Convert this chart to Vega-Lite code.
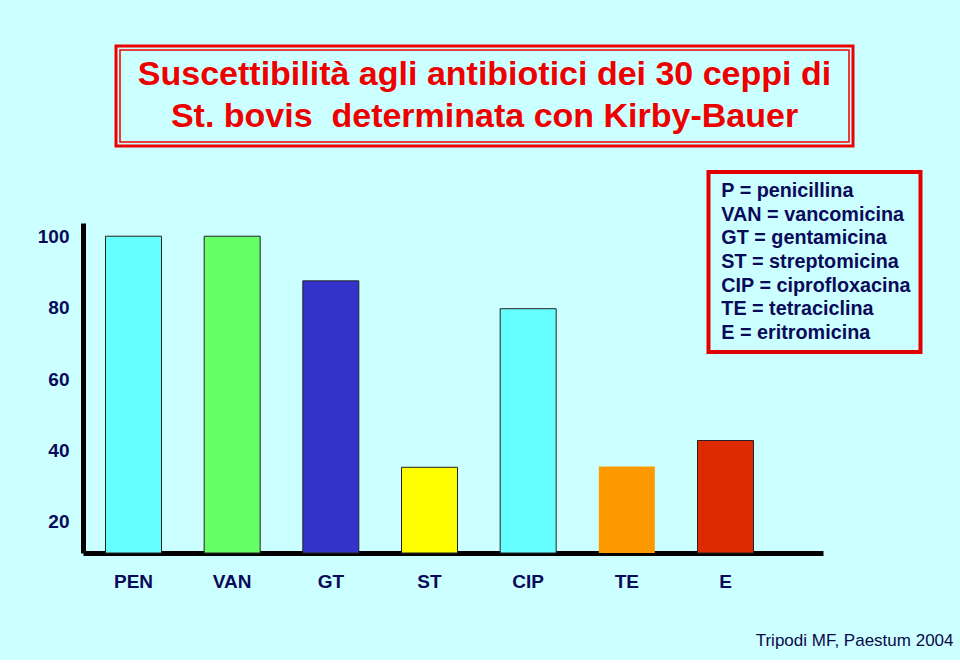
{
  "$schema": "https://vega.github.io/schema/vega-lite/v6.json",
  "background": "#ccffff",
  "padding": {"left": 37, "top": 44, "right": 10, "bottom": 11},
  "config": {"view": {"stroke": null}, "font": "Liberation Sans", "legend": {"strokeWidth": 4}},
  "title": {"text": "Tripodi MF, Paestum 2004", "orient": "bottom", "anchor": "end", "fontSize": 17, "fontWeight": "normal", "color": "#0a0a4a", "offset": 42, "dx": 31},
  "spacing": 75,
  "vconcat": [
    {
      "spacing": 0,
      "hconcat": [
        {"width": 31, "height": 100, "data": {"values": []}, "mark": "point"},
        {
          "width": 737,
          "height": 100,
          "view": {"stroke": "#ee0000", "strokeWidth": 3, "fill": null},
          "data": {"values": [{"title": "Suscettibilità agli antibiotici dei 30 ceppi di\nSt. bovis\u00a0 determinata con Kirby-Bauer"}]},
          "layer": [
            {"mark": {"type": "rect", "fill": null, "stroke": "#ee0000", "strokeWidth": 1.5, "xOffset": 4, "x2Offset": -4, "yOffset": -4, "y2Offset": 4},
             "encoding": {
               "x": {"datum": 0, "type": "quantitative", "scale": {"domain": [0, 1], "nice": false}, "axis": null},
               "x2": {"datum": 1},
               "y": {"datum": 0, "type": "quantitative", "scale": {"domain": [0, 1], "nice": false}, "axis": null},
               "y2": {"datum": 1}}},
            {"mark": {"type": "text", "lineBreak": "\n", "fontSize": 34, "fontWeight": "bold", "color": "#ee0000", "lineHeight": 42, "baseline": "middle", "align": "center", "dy": -21}, "encoding": {"text": {"field": "title"}}}
          ]
        }
      ]
    },
    {
      "width": 740,
      "height": 330,
      "data": {"values": [
        {"drug": "PEN", "legend": "P = penicillina", "pct": 100},
        {"drug": "VAN", "legend": "VAN = vancomicina", "pct": 100},
        {"drug": "GT", "legend": "GT = gentamicina", "pct": 87.5},
        {"drug": "ST", "legend": "ST = streptomicina", "pct": 35.3},
        {"drug": "CIP", "legend": "CIP = ciprofloxacina", "pct": 79.7},
        {"drug": "TE", "legend": "TE = tetraciclina", "pct": 35.5},
        {"drug": "E", "legend": "E = eritromicina", "pct": 42.8}
      ]},
      "mark": {"type": "bar", "stroke": "#222222", "strokeWidth": 1},
      "encoding": {
        "x": {"field": "drug", "type": "nominal", "sort": null,
          "scale": {"paddingInner": 0.4325, "paddingOuter": 0.4662, "align": 0.2445},
          "axis": {"title": null, "domainWidth": 5, "domainColor": "black", "ticks": false, "grid": false, "labelAngle": 0, "labelFontSize": 19, "labelFontWeight": "bold", "labelColor": "#0a0a5a", "labelPadding": 19}},
        "y": {"field": "pct", "type": "quantitative",
          "scale": {"domain": [11.3, 103.7], "zero": false, "nice": false, "clamp": true},
          "axis": {"title": null, "values": [20, 40, 60, 80, 100], "domainWidth": 5, "domainColor": "black", "ticks": false, "grid": false, "labelFontSize": 19, "labelFontWeight": "bold", "labelColor": "#0a0a5a", "labelPadding": 14}},
        "color": {"field": "legend", "type": "nominal", "sort": null,
          "scale": {"range": ["#66ffff", "#66ff66", "#3333cc", "#ffff00", "#66ffff", "#ff9900", "#dd2a00"]},
          "legend": {"title": null, "orient": "none", "legendX": 625.5, "legendY": 126, "strokeColor": "#e00000", "padding": 9, "symbolSize": 0, "symbolOpacity": 0, "symbolStrokeWidth": 0, "labelOffset": -16, "labelFontSize": 19.8, "labelFontWeight": "bold", "labelColor": "#0a0a5a", "rowPadding": 2.7, "labelLimit": 400}},
        "strokeOpacity": {"condition": {"test": "datum.drug === 'TE'", "value": 0}, "value": 1}
      }
    }
  ]
}
